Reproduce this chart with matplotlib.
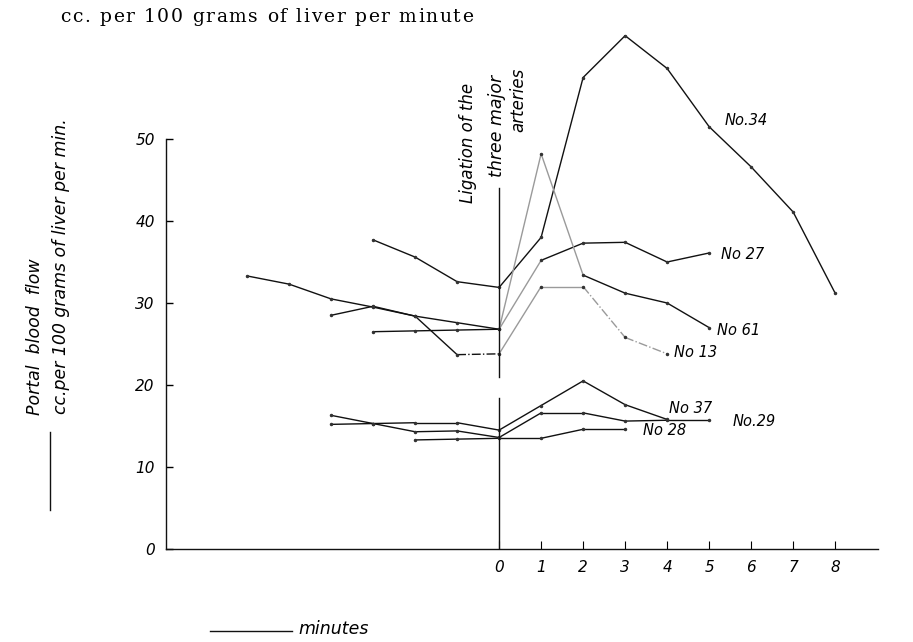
import numpy as np
import matplotlib.pyplot as plt

nan = np.nan

# minutes relative to ligation of the three major arteries
minutes = [-6, -5, -4, -3, -2, -1, 0, 1, 2, 3, 4, 5, 6, 7, 8]

no34 = [nan, nan, nan, 37.7, 35.6, 32.6, 31.9, 38.0, 57.5, 62.6, 58.6, 51.5, 46.6, 41.1, 31.2]
no27 = [33.3, 32.3, 30.5, 29.5, 28.4, 27.6, 26.8, 35.2, 37.3, 37.4, 35.0, 36.1, nan, nan, nan]
no61 = [nan, nan, nan, 26.5, 26.6, 26.7, 26.8, 48.2, 33.4, 31.2, 30.0, 27.0, nan, nan, nan]
no13 = [nan, nan, 28.5, 29.6, 28.4, 23.7, 23.8, 32.0, 32.0, 25.8, 23.8, nan, nan, nan, nan]
no37 = [nan, nan, 15.2, 15.3, 15.4, 15.4, 14.5, 17.5, 20.5, 17.6, 15.8, nan, nan, nan, nan]
no29 = [nan, nan, 16.3, 15.3, 14.3, 14.4, 13.6, 16.6, 16.6, 15.6, 15.7, 15.7, nan, nan, nan]
no28 = [nan, nan, nan, nan, 13.3, 13.4, 13.5, 13.5, 14.6, 14.6, nan, nan, nan, nan, nan]

series = {'No.34': no34, 'No 27': no27, 'No 61': no61, 'No 13': no13,
          'No 37': no37, 'No.29': no29, 'No 28': no28}
# label anchor (minute, flow)
label_pos = {'No.34': (5.38, 52.2), 'No 27': (5.29, 35.9), 'No 61': (5.19, 26.7),
             'No 13': (4.17, 24.0), 'No 37': (4.05, 17.1), 'No.29': (5.55, 15.5),
             'No 28': (3.43, 14.4)}
# segments (by start minute) that were drawn faint in the original
faint = {'No 27': [0], 'No 61': [0, 1], 'No 13': [0, 1, 2, 3]}
dashdot = {'No 13': [-1, 2, 3]}

yticks = [0, 10, 20, 30, 40, 50]
xticks = [0, 1, 2, 3, 4, 5, 6, 7, 8]
title = 'cc. per 100 grams of liver per minute'

W, H = 913, 642
fig = plt.figure(figsize=(W / 100, H / 100), dpi=100)
ax = fig.add_axes([166 / W, (H - 549) / H, (878 - 166) / W, (549 - 30) / H])
ax.set_xlim(-7.93, 9.02)
ax.set_ylim(0, (549 - 30) / 8.2)

hand = dict(family='DejaVu Sans', style='italic')

for name, vals in series.items():
    for i in range(len(minutes) - 1):
        a, b = vals[i], vals[i + 1]
        if np.isnan(a) or np.isnan(b):
            continue
        t0 = minutes[i]
        col = '#9a9a9a' if t0 in faint.get(name, []) else '#111111'
        ls = '-.' if t0 in dashdot.get(name, []) else '-'
        ax.plot([t0, minutes[i + 1]], [a, b], color=col, lw=1.0, ls=ls,
                solid_capstyle='round', clip_on=False)
    ok = ~np.isnan(vals)
    ax.plot(np.array(minutes)[ok], np.array(vals)[ok], ls='none', marker='o',
            ms=1.5, color='#333333', clip_on=False)
    lx, ly = label_pos[name]
    ax.text(lx, ly, name, fontsize=10.5, va='center', ha='left', **hand)

# ligation marker
ax.plot([0, 0], [0, 18.4], color='#111111', lw=1.0)
ax.plot([0, 0], [21.0, 44.0], color='#111111', lw=1.0)
ax.text(-0.74, 49.5, 'Ligation of the', rotation=90, fontsize=12,
        ha='center', va='center', **hand)
ax.text(-0.05, 51.6, 'three major', rotation=90, fontsize=12.5,
        ha='center', va='center', **hand)
ax.text(0.45, 54.8, 'arteries', rotation=90, fontsize=12,
        ha='center', va='center', **hand)

for s in ['top', 'right']:
    ax.spines[s].set_visible(False)
ax.spines['left'].set_bounds(0, 50)
for s in ['left', 'bottom']:
    ax.spines[s].set_linewidth(1.0)
    ax.spines[s].set_color('#111111')

ax.set_yticks(yticks)
ax.set_xticks(xticks)
ax.set_yticklabels([str(v) for v in yticks], **hand)
ax.set_xticklabels([str(v) for v in xticks], **hand)
ax.tick_params(axis='y', direction='in', length=5, width=1.0, pad=8, labelsize=11)
ax.tick_params(axis='x', direction='in', length=6, width=0.8, pad=8, labelsize=11)
ax.set_facecolor('none')

# printed caption, letter-spaced like the original
renderer = fig.canvas.get_renderer()
cap = dict(family='DejaVu Serif', fontsize=13.5, va='center', ha='left')
probe = fig.text(0, 0, 'xx', **cap)
base = probe.get_window_extent(renderer).width
widths = []
for ch in title:
    probe.set_text('x' + ch + 'x')
    widths.append(probe.get_window_extent(renderer).width - base)
probe.remove()
extra = (473 - 60 - sum(widths)) / (len(title) - 1)
x = 60
for ch, wd in zip(title, widths):
    if ch != ' ':
        fig.text(x / W, 1 - 17 / H, ch, **cap)
    x += wd + extra

fig.text(35 / W, 1 - 337 / H, 'Portal  blood  flow', rotation=90, fontsize=12.5,
         ha='center', va='center', **hand)
fig.text(61 / W, 1 - 266 / H, 'cc.per 100 grams of liver per min.', rotation=90,
         fontsize=12.5, ha='center', va='center', **hand)
fig.add_artist(plt.Line2D([50 / W, 50 / W], [1 - 432 / H, 1 - 510 / H],
                          color='#111111', lw=1.0))
fig.add_artist(plt.Line2D([210 / W, 292 / W], [1 - 631 / H, 1 - 631 / H],
                          color='#111111', lw=1.0))
fig.text(298 / W, 1 - 629 / H, 'minutes', fontsize=12.5, ha='left', va='center', **hand)

fig.savefig('out.png', dpi=100)
